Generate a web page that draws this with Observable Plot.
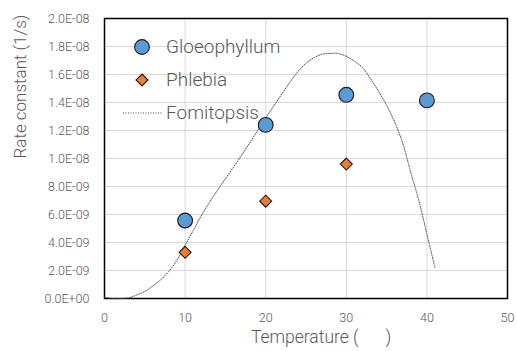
<!DOCTYPE html>
<html>
<head>
<meta charset="utf-8">
<script src="https://cdn.jsdelivr.net/npm/d3@7"></script>
<script src="https://cdn.jsdelivr.net/npm/@observablehq/plot@0.6"></script>
<style>
  body { margin: 0; background: #fff; }
  #wrap { position: relative; width: 517px; height: 351px; font-family: Roboto, sans-serif; font-weight: 300; }
  #legend { position: absolute; left: 118px; top: 30px; }
  .item { display: flex; align-items: center; height: 33px; color: #595959; font-size: 19px; font-weight: 300; }
  .item svg { width: 46px; height: 20px; margin-right: 2px; }
</style>
</head>
<body>
<div id="wrap"></div>
<script>
// ---- data ----
const seriesNames = ["Gloeophyllum", "Phlebia", "Fomitopsis"];
const gloeoTemp = [10, 20, 30, 40];
const gloeoRate = [5.57e-9, 12.4e-9, 14.55e-9, 14.15e-9];
const phlebiaTemp = [10, 20, 30];
const phlebiaRate = [3.3e-9, 6.95e-9, 9.6e-9];
const fomiTemp = [0, 1, 2, 3, 4, 5, 6, 7, 8, 9, 10, 11, 12, 13, 14, 15, 16, 17, 18, 19, 20,
                  21, 22, 23, 24, 25, 26, 27, 28, 29, 30, 31, 32, 33, 34, 35, 36, 37, 38, 39, 40, 41];
const fomiRate = [0.1e-9, 0.0, 0.0, 0.05e-9, 0.25e-9, 0.5e-9, 0.9e-9, 1.35e-9, 1.95e-9, 2.75e-9, 3.8e-9,
                  4.85e-9, 5.9e-9, 6.85e-9, 7.72e-9, 8.55e-9, 9.38e-9, 10.22e-9, 11.1e-9, 12.0e-9, 12.9e-9,
                  13.75e-9, 14.6e-9, 15.45e-9, 16.2e-9, 16.8e-9, 17.2e-9, 17.45e-9, 17.5e-9, 17.5e-9, 17.3e-9,
                  16.95e-9, 16.5e-9, 15.7e-9, 14.8e-9, 13.8e-9, 12.6e-9, 11.1e-9, 9.0e-9, 7.0e-9, 4.6e-9, 2.2e-9];
const xTicks = [0, 10, 20, 30, 40, 50];
const yTicks = [0, 2e-9, 4e-9, 6e-9, 8e-9, 10e-9, 12e-9, 14e-9, 16e-9, 18e-9, 20e-9];
const yTickLabels = ["0.0E+00", "2.0E-09", "4.0E-09", "6.0E-09", "8.0E-09", "1.0E-08",
                     "1.2E-08", "1.4E-08", "1.6E-08", "1.8E-08", "2.0E-08"];
const xTitle = "Temperature (\u2003\u2002)";
const yTitle = "Rate constant (1/s)";

const gloeo = gloeoTemp.map((t, i) => ({t, r: gloeoRate[i]}));
const phlebia = phlebiaTemp.map((t, i) => ({t, r: phlebiaRate[i]}));
const fomi = fomiTemp.map((t, i) => ({t, r: fomiRate[i]}));

const textColor = "#595959";
const blue = "#5B9BD5", orange = "#ED7D31";
const lineColor = "#4a4a4a";

const chart = Plot.plot({
  width: 517,
  height: 351,
  marginLeft: 104,
  marginRight: 10,
  marginTop: 18,
  marginBottom: 53,
  style: { fontFamily: "Roboto, sans-serif", fontWeight: 300, fontSize: "12.5px", color: textColor, background: "#fff" },
  x: { domain: [0, 50], ticks: xTicks },
  y: { domain: [0, 2e-8], ticks: yTicks },
  marks: [
    Plot.gridX(xTicks, { stroke: "#d9d9d9", strokeOpacity: 1 }),
    Plot.gridY(yTicks, { stroke: "#d9d9d9", strokeOpacity: 1 }),
    Plot.frame({ stroke: "#000", strokeWidth: 1.5 }),
    Plot.axisX(xTicks, { tickSize: 0, tickPadding: 15, label: null, fill: textColor, fontSize: 12.5 }),
    Plot.axisY(yTicks, { tickSize: 0, tickPadding: 15, label: null, fill: textColor, fontSize: 12.5,
      tickFormat: d => yTickLabels[yTicks.indexOf(d)] }),
    Plot.text([xTitle], { frameAnchor: "bottom", dy: 44, dx: 15, fill: textColor, fontSize: 17.5 }),
    Plot.text([yTitle], { frameAnchor: "left", dx: -84, rotate: -90, fill: textColor, fontSize: 17 }),
    Plot.line(fomi, { x: "t", y: "r", curve: "catmull-rom", stroke: lineColor, strokeWidth: 1, strokeDasharray: "1,1.5" }),
    Plot.dot(phlebia, { x: "t", y: "r", symbol: "diamond2", r: 5.4, fill: orange, stroke: "#1a1a1a", strokeWidth: 1.1 }),
    Plot.dot(gloeo, { x: "t", y: "r", r: 7.4, fill: blue, stroke: "#1a1a1a", strokeWidth: 1.1 })
  ]
});

const wrap = document.getElementById("wrap");
wrap.appendChild(chart);

// legend overlay
const legend = d3.select(wrap).append("div").attr("id", "legend");
const items = [
  { name: seriesNames[0], kind: "circle" },
  { name: seriesNames[1], kind: "diamond" },
  { name: seriesNames[2], kind: "line" }
];
items.forEach(it => {
  const row = legend.append("div").attr("class", "item");
  const s = row.append("svg");
  if (it.kind === "circle") {
    s.append("circle").attr("cx", 24).attr("cy", 10).attr("r", 7.4).attr("fill", blue).attr("stroke", "#1a1a1a").attr("stroke-width", 1.1);
  } else if (it.kind === "diamond") {
    s.append("path").attr("d", d3.symbol(d3.symbolDiamond2, Math.PI * 5.4 * 5.4)()).attr("transform", "translate(24,10)")
      .attr("fill", orange).attr("stroke", "#1a1a1a").attr("stroke-width", 1.1);
  } else {
    s.append("line").attr("x1", 5).attr("x2", 44).attr("y1", 10).attr("y2", 10)
      .attr("stroke", lineColor).attr("stroke-width", 1).attr("stroke-dasharray", "1,1.5");
  }
  row.append("span").text(it.name);
});
</script>
</body>
</html>
